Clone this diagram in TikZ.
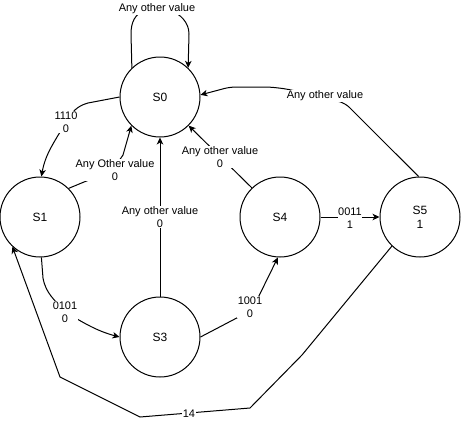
\documentclass[tikz,border=0pt]{standalone}
\usepackage{fontspec}
\setmainfont{Liberation Sans}
\usetikzlibrary{arrows.meta}
\begin{document}
\begin{tikzpicture}[x=1pt,y=-1pt,
  state/.style={draw,circle,minimum size=80pt,inner sep=0pt,line width=1pt,font=\fontsize{12}{14}\selectfont,align=center},
  lbl/.style={fill=white,inner sep=0.5pt,align=center,font=\fontsize{11}{13}\selectfont},
  conn/.style={draw,line width=1pt,-{Stealth[length=7pt,width=6.5pt,inset=2pt]}}]
\useasboundingbox (0,0) rectangle (461,426);
% states
\node[state] (s0) at (160,97) {S0};
\node[state] (s1) at (40,217) {S1};
\node[state] (s3) at (160,337) {S3};
\node[state] (s4) at (280,217) {S4};
\node[state] (s5) at (420,217) {S5\\1};
% connectors
\draw[conn] (s0.134) -- (131,34) .. controls (131,22) and (135,14) .. (145,10) -- (170,10) .. controls (180,14) and (189,22) .. (189,34) -- (s0.46);
\draw[conn,rounded corners=6pt] (s5.92) -- (345,103) -- (287,89) -- (270,87) -- (230,87) -- (s0.3);
\draw[conn] (s0.180) -- (88,103) to[out=195,in=60] (66,122) to[out=240,in=80] (s1.88);
\draw[conn] (s1.45) -- (84,182) -- (112,171) -- (123,155) -- (s0.225);
\draw[conn] (s3) -- (s0);
\draw[conn] (s4.134) -- (s0.315);
\draw[conn] (s4) -- (s5);
\draw[conn] (s1.272) -- (43,278) to[out=-80,in=130] (65,312) to[out=-30,in=165] (s3.180);
\draw[conn] (s3.0) -- (252,310) -- (s4.267);
\draw[conn] (s5.226) -- (302,355) -- (250,408) -- (140,417) -- (60,377) -- (s1.227);
% labels
\node[lbl] (l1) at (157,9) {Any other value};
\node[lbl] (l2) at (325,96) {Any other value};
\node[lbl] (l3) at (66,122) {1110\\0};
\node[lbl] (l4) at (115,170) {Any Other value\\0};
\node[lbl] (l5) at (160,217) {Any other value\\0};
\node[lbl] (l6) at (220,157) {Any other value\\0};
\node[lbl] (l7) at (350,218) {0011\\1};
\node[lbl] (l8) at (65,312) {0101\\0};
\node[lbl] (l9) at (250,307) {1001\\0};
\node[lbl] (l10) at (189,414) {14};
\end{tikzpicture}
\end{document}
